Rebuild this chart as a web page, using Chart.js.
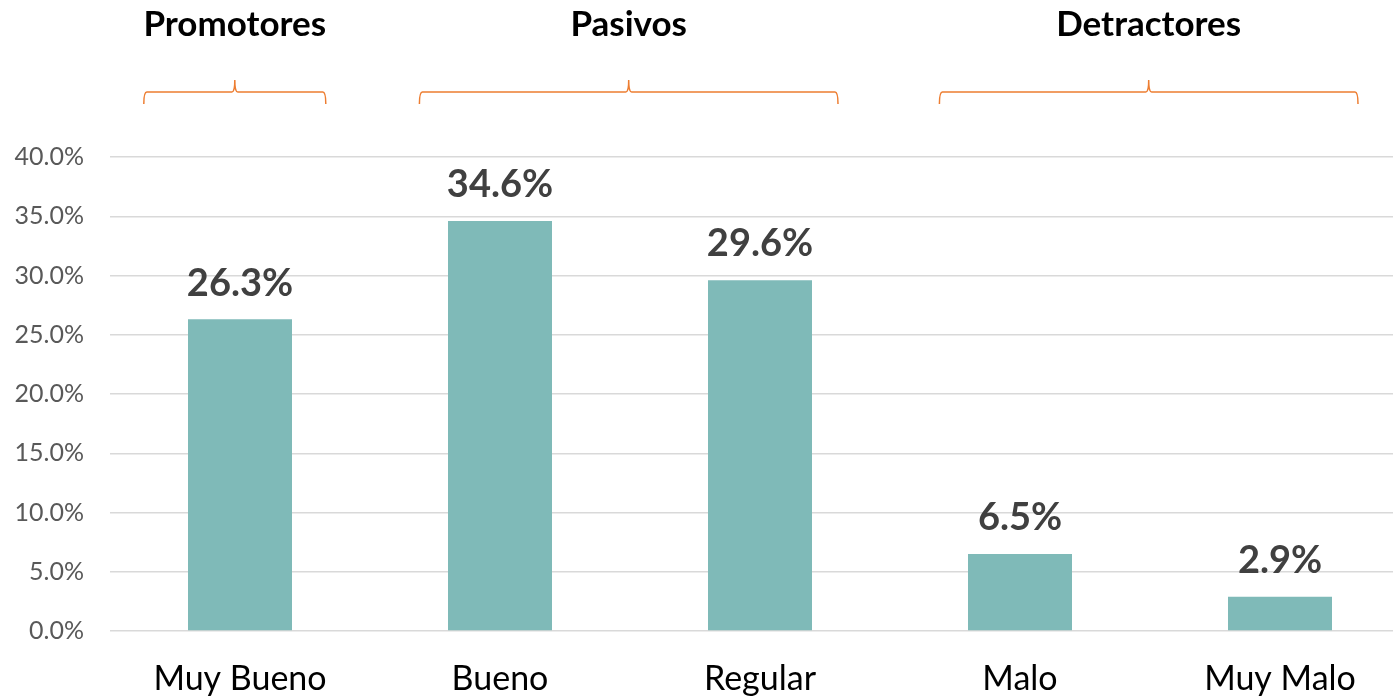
<!DOCTYPE html>
<html>
<head>
<meta charset="utf-8">
<script src="https://cdn.jsdelivr.net/npm/chart.js@4"></script>
<style>
  html, body { margin: 0; padding: 0; overflow: hidden; background: #fff; }
  #wrap { width: 1410px; height: 697px; }
</style>
</head>
<body>
<div id="wrap"><canvas id="myChart"></canvas></div>
<script>
const categories = ['Muy Bueno', 'Bueno', 'Regular', 'Malo', 'Muy Malo'];
const values = [26.3, 34.6, 29.6, 6.5, 2.9];
const groupNames = ['Promotores', 'Pasivos', 'Detractores'];
const groupFirst = [0, 1, 3];
const groupLast = [0, 2, 4];

const FONT = 'Lato, "Open Sans", sans-serif';

// data labels above each bar
const barLabels = {
    id: 'barLabels',
    afterDatasetsDraw(chart) {
        const ctx = chart.ctx;
        const meta = chart.getDatasetMeta(0);
        ctx.save();
        ctx.font = 'bold 38px ' + FONT;
        ctx.fillStyle = '#404040';
        ctx.textAlign = 'center';
        ctx.textBaseline = 'bottom';
        meta.data.forEach(function(bar, i) {
            ctx.fillText(values[i].toFixed(1) + '%', bar.x, bar.y - 17);
        });
        ctx.restore();
    }
};

// group braces and titles on top
const groupBraces = {
    id: 'groupBraces',
    afterDraw(chart) {
        const ctx = chart.ctx;
        const x = chart.scales.x;
        const step = x.getPixelForValue(1) - x.getPixelForValue(0);
        ctx.save();
        ctx.strokeStyle = '#ED7D31';
        ctx.lineWidth = 1.5;
        groupNames.forEach(function(name, g) {
            let left = x.getPixelForValue(groupFirst[g]) - step * 0.31;
            let right = x.getPixelForValue(groupLast[g]) + step * 0.3;
            if (groupFirst[g] === groupLast[g]) {
                left = x.getPixelForValue(groupFirst[g]) - step * 0.37;
                right = x.getPixelForValue(groupLast[g]) + step * 0.33;
            }
            const mid = (left + right) / 2;
            const yTop = 92, yEnd = 104, yPeak = 80, r = 3;
            ctx.beginPath();
            ctx.moveTo(left, yEnd);
            ctx.quadraticCurveTo(left, yTop, left + r, yTop);
            ctx.lineTo(mid - r, yTop);
            ctx.quadraticCurveTo(mid, yTop, mid, yPeak);
            ctx.quadraticCurveTo(mid, yTop, mid + r, yTop);
            ctx.lineTo(right - r, yTop);
            ctx.quadraticCurveTo(right, yTop, right, yEnd);
            ctx.stroke();

            ctx.font = 'bold 35px ' + FONT;
            ctx.fillStyle = '#000';
            ctx.textAlign = 'center';
            ctx.textBaseline = 'middle';
            ctx.fillText(name, mid, 25);
        });
        ctx.restore();
    }
};

const ctx = document.getElementById('myChart').getContext('2d');
const myChart = new Chart(ctx, {
    type: 'bar',
    data: {
        labels: categories,
        datasets: [{
            data: values,
            backgroundColor: '#7FBAB8',
            barPercentage: 0.4,
            categoryPercentage: 1
        }]
    },
    options: {
        responsive: true,
        maintainAspectRatio: false,
        animation: false,
        layout: { padding: { top: 157, right: 0, left: 0, bottom: 0 } },
        plugins: {
            legend: { display: false },
            tooltip: { enabled: false }
        },
        scales: {
            x: {
                grid: { display: false, drawTicks: false },
                border: { display: false },
                ticks: {
                    color: '#000',
                    padding: 28,
                    font: { family: FONT, size: 34 }
                },
                afterFit: function(s) { s.height = 66; }
            },
            y: {
                min: 0,
                max: 40,
                ticks: {
                    stepSize: 5,
                    color: '#595959',
                    padding: 26,
                    font: { family: FONT, size: 25 },
                    callback: function(v) { return v.toFixed(1) + '%'; }
                },
                grid: { color: '#D9D9D9', lineWidth: 1.5, drawTicks: false },
                border: { display: false },
                afterFit: function(s) { s.width = 110; }
            }
        }
    },
    plugins: [barLabels, groupBraces]
});
</script>
</body>
</html>
